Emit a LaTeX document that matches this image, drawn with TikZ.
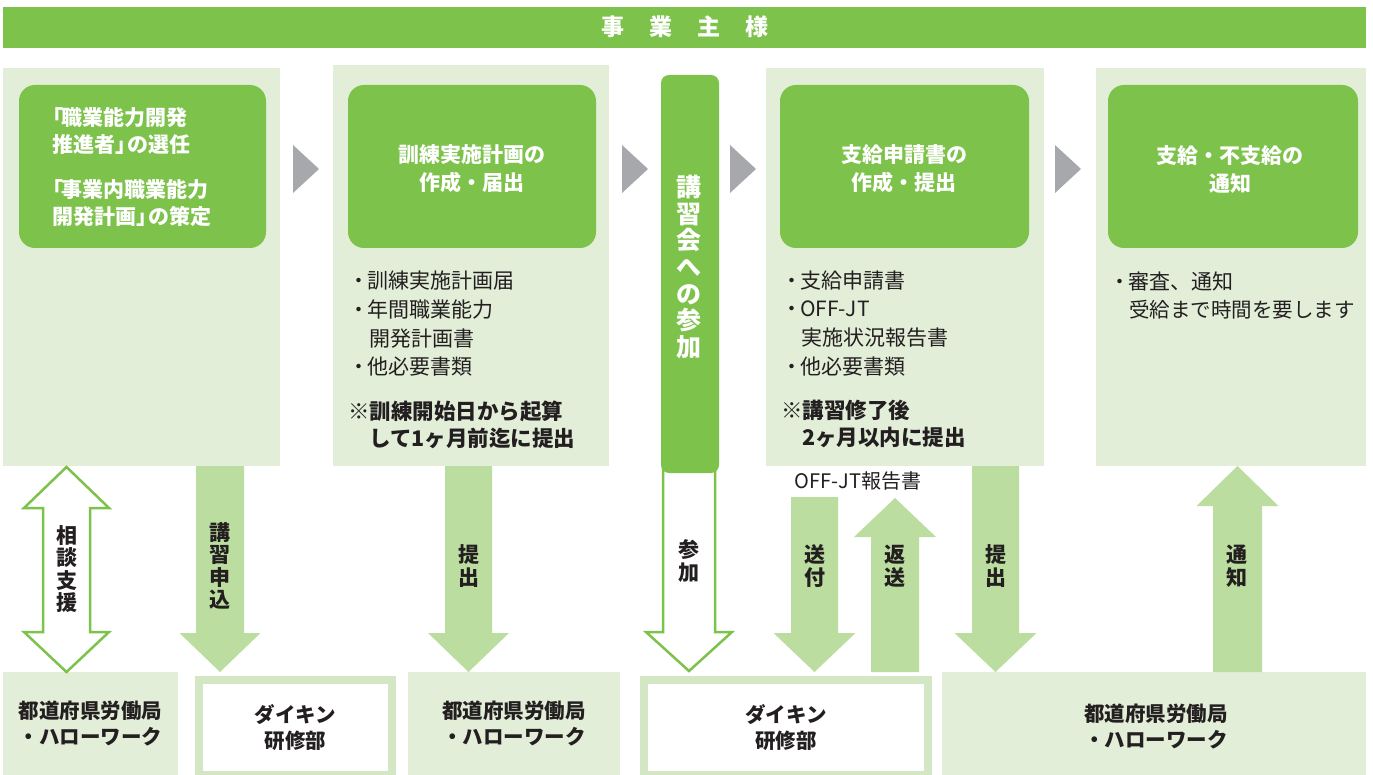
\documentclass[tikz,border=0pt]{standalone}
\usepackage{fontspec}
\setmainfont{Noto Sans CJK JP}
\definecolor{bannergreen}{HTML}{7DC24B}
\definecolor{pale}{HTML}{E2EED8}
\definecolor{arrowgreen}{HTML}{BCDDA0}
\definecolor{framegreen}{HTML}{D4E7C4}
\definecolor{chevgray}{HTML}{A7A8AB}
\definecolor{ink}{HTML}{231F20}
\newcommand\fsz[2]{\fontsize{#1}{#2}\selectfont}
% style, xc, ytail, ybase, ytip, half shaft, half head
\newcommand\blockarrow[7]{%
  \path[#1] ({#2-#6},#3) -- ({#2-#6},#4) -- ({#2-#7},#4) -- (#2,#5) -- ({#2+#7},#4) -- ({#2+#6},#4) -- ({#2+#6},#3) -- cycle;}
\tikzset{
  panel/.style={fill=pale, draw=none, inner sep=0, outer sep=0, anchor=north west},
  greenbox/.style={fill=bannergreen, draw=none, rounded corners=16pt, inner sep=0, outer sep=0, anchor=north west},
  headtext/.style={text=white, font=\bfseries\fsz{21}{28}, align=center, inner sep=0},
  c1text/.style={text=white, font=\bfseries\fsz{21}{27}, anchor=west, inner sep=0},
  bultext/.style={text=ink, font=\fsz{21}{29}, anchor=west, inner sep=0},
  notetext/.style={text=ink, font=\bfseries\fsz{21.5}{28}, anchor=west, inner sep=0},
  vlabel/.style={text=ink, font=\bfseries\fsz{21}{22.5}, align=center, inner sep=0},
  boxtext/.style={text=ink, font=\bfseries\fsz{20.5}{26}, align=center, inner sep=0},
  chevron/.style={fill=chevgray, draw=none},
  solidarrow/.style={fill=arrowgreen, draw=none},
  hollowarrow/.style={fill=white, draw=bannergreen, line width=2.5pt, line join=miter},
  framebox/.style={fill=white, draw=framegreen, line width=8pt, inner sep=0, anchor=north west},
}
\begin{document}
\begin{tikzpicture}[x=1pt,y=-1pt]
\useasboundingbox (0,0) rectangle (1373,775);
\fill[white] (0,0) rectangle (1373,775);

% banner
\node[fill=bannergreen, minimum width=1363pt, minimum height=41pt, inner sep=0, anchor=north west] (banner) at (3,7) {};
\node[text=white, font=\bfseries\fsz{23}{24}, inner sep=0] (bannertext) at (685,27) {事\hspace{25pt}業\hspace{25pt}主\hspace{25pt}様};

% panels
\node[panel, minimum width=277pt, minimum height=398pt] (p1) at (3,68) {};
\node[panel, minimum width=276pt, minimum height=401pt] (p2) at (333,65) {};
\node[panel, minimum width=278pt, minimum height=398pt] (p4) at (766,68) {};
\node[panel, minimum width=270pt, minimum height=398pt] (p5) at (1096,68) {};

% inner green boxes
\node[greenbox, minimum width=247pt, minimum height=163pt] (g1) at (19,85) {};
\node[greenbox, minimum width=248pt, minimum height=163pt] (g2) at (348,85) {};
\node[greenbox, minimum width=249pt, minimum height=163pt] (g4) at (780,85) {};
\node[greenbox, minimum width=250pt, minimum height=163pt] (g5) at (1108,85) {};

% chevrons
\path[chevron] (293,145) -- (319,169) -- (293,193) -- cycle;
\path[chevron] (622,145) -- (648,169) -- (622,193) -- cycle;
\path[chevron] (730,145) -- (756,169) -- (730,193) -- cycle;
\path[chevron] (1055,145) -- (1081,169) -- (1055,193) -- cycle;

% column 1 text
\node[c1text] (c1a) at (42,118) {「\kern-1.5pt 職業能力開発};
\node[c1text] (c1b) at (52,145) {推進者」\kern-9pt の選任};
\node[c1text] (c1c) at (42,190) {「\kern-1.5pt 事業内職業能力};
\node[c1text] (c1d) at (52,217) {開発計画」\kern-9pt の策定};

% column 2 text
\node[headtext] (h2) at (472,169) {訓練実施計画の\\作成・届出};
\node[bultext] (b21) at (348,281) {・\kern-2pt 訓練実施計画届};
\node[bultext] (b22) at (348,310) {・\kern-2pt 年間職業能力};
\node[bultext] (b23) at (369,339) {開発計画書};
\node[bultext] (b24) at (348,367) {・\kern-2pt 他必要書類};
\node[notetext] (n21) at (348,411) {※訓練開始日から起算};
\node[notetext] (n22) at (369,438) {して1ヶ月前迄に提出};

% column 3 tall box
\blockarrow{hollowarrow}{689}{465}{632}{671}{26}{43}
\node[greenbox, rounded corners=8pt, minimum width=58pt, minimum height=398pt] (g3) at (661,75) {};
\node[text=white, font=\bfseries\fsz{25}{26.7}, align=center, inner sep=0] (v3) at (689,267) {講\\習\\会\\へ\\の\\参\\加};

% column 4 text
\node[headtext] (h4) at (904,169) {支給申請書の\\作成・提出};
\node[bultext] (b41) at (781,281) {・\kern-2pt 支給申請書};
\node[bultext] (b42) at (781,309) {・\kern-2pt OFF-JT};
\node[bultext] (b43) at (801,338) {実施状況報告書};
\node[bultext] (b44) at (781,367) {・\kern-2pt 他必要書類};
\node[notetext] (n41) at (781,410) {※講習修了後};
\node[notetext] (n42) at (802,437) {2ヶ月以内に提出};

% column 5 text
\node[headtext] (h5) at (1230,169) {支給・不支給の\\通知};
\node[bultext] (b51) at (1109,281) {・\kern-2pt 審査、通知};
\node[bultext, font=\fsz{20.5}{29}] (b52) at (1129,310) {受給まで時間を要します};

% bottom boxes
\node[panel, minimum width=175pt, minimum height=103pt] (r1) at (3,672) {};
\node[framebox, minimum width=193pt, minimum height=95pt] (r2) at (195,676) {};
\node[panel, minimum width=212pt, minimum height=103pt] (r3) at (408,672) {};
\node[framebox, minimum width=284pt, minimum height=95pt] (r4) at (640,676) {};
\node[panel, minimum width=424pt, minimum height=103pt] (r5) at (942,672) {};

\node[boxtext] (t1) at (r1.center) {都道府県労働局\\・ハローワーク};
\node[boxtext] (t2) at (r2.center) {ダイキン\\研修部};
\node[boxtext] (t3) at (r3.center) {都道府県労働局\\・ハローワーク};
\node[boxtext] (t4) at (r4.center) {ダイキン\\研修部};
\node[boxtext] (t5) at (1156,727) {都道府県労働局\\・ハローワーク};

% bottom arrows
\path[hollowarrow] (43,508) -- (43,632) -- (24,632) -- (66.5,672) -- (109,632) -- (90,632) -- (90,508) -- (109,508) -- (66.5,467) -- (24,508) -- cycle;
\blockarrow{solidarrow}{220}{466}{633}{672}{24}{40.5}
\blockarrow{solidarrow}{468.5}{466}{633}{672}{23.5}{40.5}
\blockarrow{solidarrow}{814.5}{497}{633}{672}{23.5}{41}
\blockarrow{solidarrow}{895}{672}{537}{498}{24}{41}
\blockarrow{solidarrow}{995.5}{466}{633}{672}{23.5}{41}
\blockarrow{solidarrow}{1237.5}{672}{506}{466}{24.5}{41}

\node[text=ink, font=\fsz{20}{22}, inner sep=0] (offjt) at (858,481) {OFF-JT報告書};

\node[vlabel] (l1) at (66.5,569) {相\\談\\支\\援};
\node[vlabel] (l2) at (220,566) {講\\習\\申\\込};
\node[vlabel] (l3) at (468.5,566) {提\\出};
\node[vlabel] (l4) at (689,561) {参\\加};
\node[vlabel] (l5) at (814.5,566) {送\\付};
\node[vlabel] (l6) at (895,566) {返\\送};
\node[vlabel] (l7) at (995.5,566) {提\\出};
\node[vlabel] (l8) at (1237,566) {通\\知};
\end{tikzpicture}
\end{document}
